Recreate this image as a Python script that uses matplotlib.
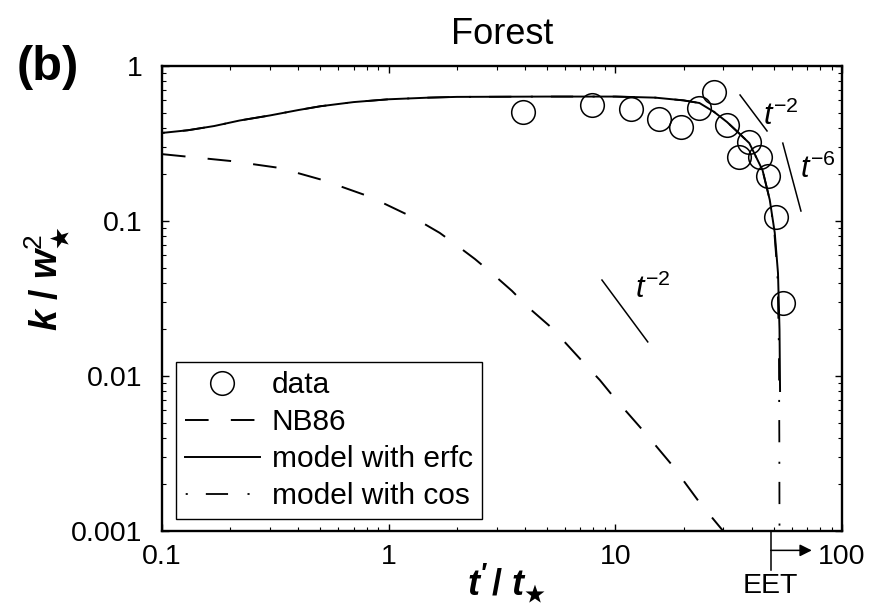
import matplotlib
matplotlib.use("Agg")
import matplotlib.pyplot as plt

plt.rcParams["font.family"] = ["Liberation Sans", "DejaVu Sans"]
plt.rcParams["mathtext.fontset"] = "custom"
plt.rcParams["mathtext.rm"] = "Liberation Sans"
plt.rcParams["mathtext.it"] = "Liberation Sans:italic"
plt.rcParams["mathtext.bf"] = "Liberation Sans:bold"
plt.rcParams["mathtext.bfit"] = "Liberation Sans:italic:bold"
plt.rcParams["mathtext.fallback"] = "stixsans"
plt.rcParams["lines.scale_dashes"] = False

# measured turbulent kinetic energy, forest site
t_data = [3.9, 7.9, 11.7, 15.6, 19.5, 23.4, 27.2, 31.1, 35.1, 38.8, 43.4, 47.1, 51.1, 54.8]
k_data = [0.505, 0.56, 0.528, 0.455, 0.404, 0.536, 0.68, 0.416, 0.259, 0.323, 0.259, 0.195, 0.106, 0.0296]

# Nieuwstadt & Brost (1986) decay
t_nb86 = [0.1, 0.2, 0.33, 0.51, 0.83, 1.29, 1.68, 1.96, 2.4, 2.88, 3.5, 4.12, 5.25, 7.2,
          8.55, 9.9, 13.5, 17.8, 23.5, 29.9]
k_nb86 = [0.27, 0.244, 0.22, 0.184, 0.143, 0.105, 0.0838, 0.0711, 0.0569, 0.0455, 0.0354,
          0.0278, 0.0204, 0.0123, 0.0094, 0.00723, 0.00431, 0.00266, 0.00153, 0.001]

# model with erfc
t_erfc = [0.1, 0.13, 0.17, 0.22, 0.3, 0.4, 0.5, 0.7, 1.0, 1.5, 2.0, 5.0, 10.0, 15.0, 20.0,
          23.5, 27.2, 31.1, 35.0, 39.0, 44.6, 48.0, 50.5, 52.2, 53.0, 53.3]
k_erfc = [0.37, 0.385, 0.41, 0.445, 0.48, 0.52, 0.55, 0.585, 0.61, 0.625, 0.632, 0.635,
          0.635, 0.625, 0.60, 0.577, 0.507, 0.435, 0.37, 0.318, 0.213, 0.137, 0.084,
          0.046, 0.02, 0.008]

# model with cos
t_cos = [0.1, 0.13, 0.17, 0.22, 0.3, 0.4, 0.5, 0.7, 1.0, 1.5, 2.0, 5.0, 10.0, 15.0, 20.0,
         23.5, 27.2, 31.1, 35.0, 39.0, 44.6, 48.0, 50.3, 51.9, 52.7, 52.9, 53.0]
k_cos = [0.37, 0.385, 0.41, 0.445, 0.48, 0.52, 0.55, 0.585, 0.61, 0.625, 0.632, 0.635,
         0.635, 0.625, 0.60, 0.577, 0.507, 0.435, 0.37, 0.318, 0.213, 0.137, 0.084,
         0.046, 0.015, 0.004, 0.001]

# reference slopes: (x0, y0, x1, y1, label, text x, text y)
slopes = [
    (8.73, 0.0416, 13.9, 0.0166, r"$t^{-2}$", 12.2, 0.032),
    (35.5, 0.65, 46.7, 0.381, r"$t^{-2}$", 44.8, 0.416),
    (54.8, 0.318, 65.9, 0.116, r"$t^{-6}$", 65.2, 0.189),
]

eet = 48.5

fig = plt.figure(figsize=(8.72, 6.06), dpi=100)
ax = fig.add_axes([162 / 872, 1 - 531 / 606, 680 / 872, 465 / 606])

ax.plot(t_data, k_data, "o", ms=17, mfc="none", mec="black", mew=1.1, label="data")
ax.plot(t_nb86, k_nb86, color="black", lw=1.4, dashes=(17, 16), label="NB86")
ax.plot(t_erfc, k_erfc, color="black", lw=1.4, label="model with erfc")
ax.plot(t_cos, k_cos, color="black", lw=1.3, ls=(29.5, (16, 14, 1.5, 13)),
        label="model with cos")

for x0, y0, x1, y1, lab, tx, ty in slopes:
    ax.plot([x0, x1], [y0, y1], color="black", lw=1.1)
    ax.text(tx, ty, lab, fontsize=22, ha="left", va="baseline")

ax.set_xscale("log")
ax.set_yscale("log")
ax.set_xlim(0.1, 100)
ax.set_ylim(0.001, 1)
ax.set_xticks([0.1, 1, 10, 100])
ax.set_xticklabels(["0.1", "1", "10", "100"])
ax.set_yticks([0.001, 0.01, 0.1, 1])
ax.set_yticklabels(["0.001", "0.01", "0.1", "1"])
ax.tick_params(which="both", direction="in", top=True, right=True, labelsize=20.5)
ax.tick_params(which="major", length=5, width=1.0)
ax.tick_params(which="minor", length=3, width=0.8)
ax.tick_params(axis="x", which="major", pad=9)
ax.tick_params(axis="y", which="major", pad=14)
for sp in ax.spines.values():
    sp.set_linewidth(1.7)

ax.set_title("Forest", fontsize=26, pad=16)

fig.text(47 / 872, 1 - 279 / 606,
         r"$\mathbfit{k}\ \mathbf{/}\ \mathbfit{w}_{\bigstar}^{\mathrm{2}}$",
         fontsize=27, rotation=90, ha="center", va="center")
fig.text(507 / 872, 1 - 583 / 606,
         r"$\mathbfit{t'}\,\mathbf{/}\ \mathbfit{t}_{\bigstar}$", fontsize=26,
         ha="center", va="center")
fig.text(48 / 872, 1 - 67 / 606, "(b)", fontsize=35, fontweight="bold",
         ha="center", va="center")

# EET marker below the x axis
ax.plot([eet, eet], [1e-3, 10 ** -3.25], color="black", lw=1.1, clip_on=False)
ax.annotate("", xy=(73.6, 10 ** -3.125), xytext=(eet, 10 ** -3.125),
            arrowprops=dict(arrowstyle="-|>", color="black", lw=1.1,
                            mutation_scale=18, shrinkA=0, shrinkB=0),
            annotation_clip=False)
ax.text(eet, 10 ** -3.27, "EET", fontsize=20.5, ha="center", va="top")

leg = ax.legend(loc="lower left", bbox_to_anchor=(0.0206, 0.0258), borderaxespad=0,
                fontsize=21.5, frameon=True, fancybox=False, framealpha=1,
                edgecolor="black", handlelength=2.5, handletextpad=0.4,
                borderpad=0.3, labelspacing=0.3, numpoints=1)
leg.get_frame().set_linewidth(1.0)

fig.savefig("out.png", dpi=100)
